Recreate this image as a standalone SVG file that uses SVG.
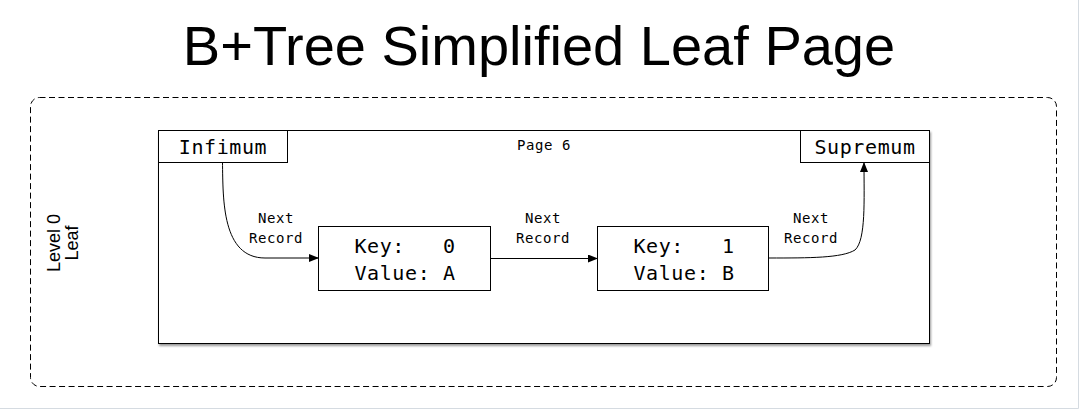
<svg xmlns="http://www.w3.org/2000/svg" width="1081" height="414" viewBox="0 0 1081 414">
<style>
.mono{font-family:"DejaVu Sans Mono","Liberation Mono",monospace;fill:#000}
.box{fill:#fff;stroke:#000;stroke-width:1}
.conn{fill:none;stroke:#000;stroke-width:1}
.lbl{font-size:14px;text-anchor:middle;letter-spacing:0.6px}
.big{font-size:20px;text-anchor:middle;letter-spacing:0.6px}
</style>
<defs>
<marker id="arr" markerWidth="10" markerHeight="8" refX="9" refY="4" orient="auto" markerUnits="userSpaceOnUse">
<path d="M0,0 L10,4 L0,8 Z" fill="#000"/>
</marker>
<filter id="sh" x="-5%" y="-5%" width="110%" height="115%">
<feDropShadow dx="1" dy="2" stdDeviation="1.2" flood-color="#000" flood-opacity="0.4"/>
</filter>
</defs>
<rect width="1081" height="414" fill="#fff"/>
<path d="M0,408.5 H1078.5 V0" fill="none" stroke="#d5dbe1" stroke-width="1"/>
<text x="539" y="65" font-family="Liberation Sans,Arial,sans-serif" font-size="56" text-anchor="middle">B+Tree Simplified Leaf Page</text>
<g id="level">
<rect x="30.5" y="97.5" width="1026" height="289" rx="9" fill="none" stroke="#000" stroke-dasharray="6,3.5"/>
<text transform="translate(63,243) rotate(-90)" font-family="Liberation Sans,Arial,sans-serif" font-size="18" text-anchor="middle"><tspan x="0" y="-3">Level 0</tspan><tspan x="0" y="15">Leaf</tspan></text>
</g>
<g id="page">
<rect x="158.5" y="130.5" width="771" height="213" class="box" filter="url(#sh)"/>
<text x="544" y="150" class="mono lbl">Page 6</text>
</g>
<g id="infimum">
<rect x="158.5" y="130.5" width="129" height="32" class="box"/>
<text x="223" y="154" class="mono big">Infimum</text>
</g>
<g id="supremum">
<rect x="800.5" y="130.5" width="129" height="32" class="box"/>
<text x="865" y="154" class="mono big">Supremum</text>
</g>
<g id="recA">
<rect x="318.5" y="226.5" width="172" height="64" class="box"/>
<text x="405" y="253" class="mono big" xml:space="preserve">Key:   0</text>
<text x="405" y="280" class="mono big">Value: A</text>
</g>
<g id="recB">
<rect x="597.5" y="226.5" width="171" height="64" class="box"/>
<text x="684" y="253" class="mono big" xml:space="preserve">Key:   1</text>
<text x="684" y="280" class="mono big">Value: B</text>
</g>
<g id="connectors">
<path class="conn" d="M222.5,162 C223,200 222,258 265,258 L318,258" marker-end="url(#arr)"/>
<path class="conn" d="M490,258.5 L597,258.5" marker-end="url(#arr)"/>
<path class="conn" d="M769,258 C810,258 842,258 855,250 C866,240 864,200 864,163" marker-end="url(#arr)"/>
<g class="mono lbl">
<text x="276" y="223">Next</text><text x="276" y="243">Record</text>
<text x="543" y="223">Next</text><text x="543" y="243">Record</text>
<text x="811" y="223">Next</text><text x="811" y="243">Record</text>
</g>
</g>
</svg>
